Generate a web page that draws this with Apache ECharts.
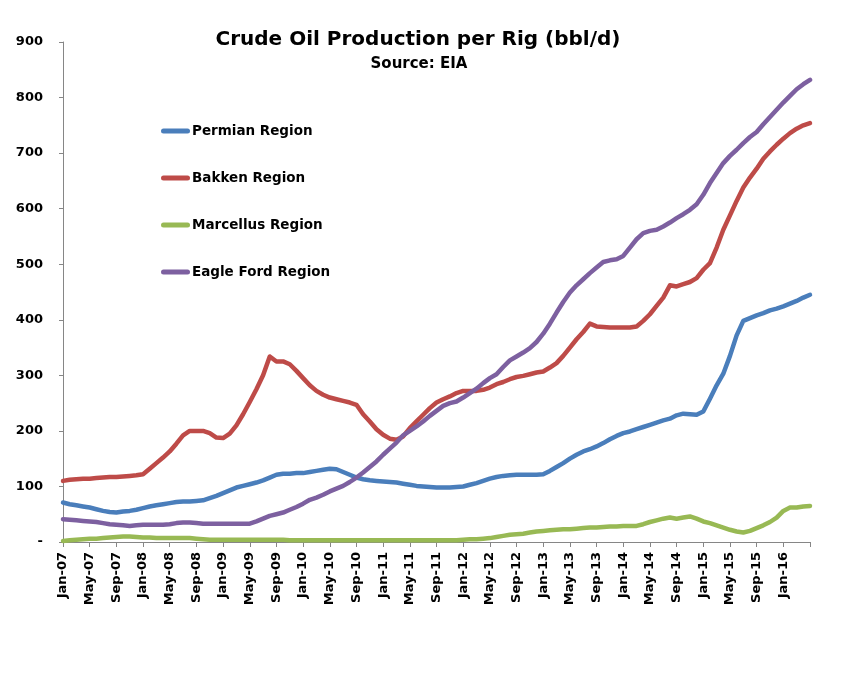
<!DOCTYPE html>
<html>
<head>
<meta charset="utf-8">
<script src="https://cdn.jsdelivr.net/npm/echarts@6/dist/echarts.min.js"></script>
<style>
html,body{margin:0;padding:0;background:#fff;}
#chart{width:845px;height:684px;}
</style>
</head>
<body>
<div id="chart"></div>
<script>
const categories = [
'Jan-07','Feb-07','Mar-07','Apr-07','May-07','Jun-07','Jul-07','Aug-07','Sep-07','Oct-07','Nov-07','Dec-07',
'Jan-08','Feb-08','Mar-08','Apr-08','May-08','Jun-08','Jul-08','Aug-08','Sep-08','Oct-08','Nov-08','Dec-08',
'Jan-09','Feb-09','Mar-09','Apr-09','May-09','Jun-09','Jul-09','Aug-09','Sep-09','Oct-09','Nov-09','Dec-09',
'Jan-10','Feb-10','Mar-10','Apr-10','May-10','Jun-10','Jul-10','Aug-10','Sep-10','Oct-10','Nov-10','Dec-10',
'Jan-11','Feb-11','Mar-11','Apr-11','May-11','Jun-11','Jul-11','Aug-11','Sep-11','Oct-11','Nov-11','Dec-11',
'Jan-12','Feb-12','Mar-12','Apr-12','May-12','Jun-12','Jul-12','Aug-12','Sep-12','Oct-12','Nov-12','Dec-12',
'Jan-13','Feb-13','Mar-13','Apr-13','May-13','Jun-13','Jul-13','Aug-13','Sep-13','Oct-13','Nov-13','Dec-13',
'Jan-14','Feb-14','Mar-14','Apr-14','May-14','Jun-14','Jul-14','Aug-14','Sep-14','Oct-14','Nov-14','Dec-14',
'Jan-15','Feb-15','Mar-15','Apr-15','May-15','Jun-15','Jul-15','Aug-15','Sep-15','Oct-15','Nov-15','Dec-15',
'Jan-16','Feb-16','Mar-16','Apr-16','May-16'
];

const permian = [
71,68,66,64,62,59,56,54,53,55,
56,58,61,64,66,68,70,72,73,73,
74,75,79,83,88,93,98,101,104,107,
111,116,121,123,123,124,124,126,128,130,
132,131,126,121,116,113,111,110,109,108,
107,105,103,101,100,99,98,98,98,99,
100,103,106,110,114,117,119,120,121,121,
121,121,122,128,135,142,150,157,163,167,
172,178,185,191,196,199,203,207,211,215,
219,222,228,231,230,229,235,258,282,303,
335,372,398,403,408,412,417,420,424,429,
434,440,445
];

const bakken = [
110,112,113,114,114,115,116,117,117,118,
119,120,122,132,142,152,163,177,192,200,
200,200,196,188,187,195,210,230,252,275,
300,334,325,325,320,308,295,282,272,265,
260,257,254,251,247,230,217,203,193,186,
184,190,205,217,229,241,251,257,262,268,
272,272,272,274,278,284,288,293,297,299,
302,305,307,314,322,335,350,365,378,393,
388,387,386,386,386,386,388,398,410,425,
440,462,460,464,468,475,490,502,530,562,
588,614,638,656,672,690,703,715,726,736,
744,750,754
];

const marcellus = [
2,3,4,5,6,6,7,8,9,10,
10,9,8,8,7,7,7,7,7,7,
6,5,4,4,4,4,4,4,4,4,
4,4,4,4,3,3,3,3,3,3,
3,3,3,3,3,3,3,3,3,3,
3,3,3,3,3,3,3,3,3,3,
4,5,5,6,7,9,11,13,14,15,
17,19,20,21,22,23,23,24,25,26,
26,27,28,28,29,29,29,32,36,39,
42,44,42,44,46,42,37,34,30,26,
22,19,17,20,25,30,36,44,56,62,
62,64,65
];

const eagleFord = [
41,40,39,38,37,36,34,32,31,30,
29,30,31,31,31,31,32,34,35,35,
34,33,33,33,33,33,33,33,33,37,
42,47,50,53,58,63,69,76,80,85,
91,96,101,108,116,125,135,145,157,168,
179,192,200,208,217,227,236,245,250,253,
260,268,276,286,295,302,315,327,334,341,
349,360,375,393,413,432,449,462,473,484,
494,504,507,509,515,530,545,556,560,562,
568,575,583,590,598,608,625,646,664,682,
695,706,718,729,738,752,765,778,791,803,
815,824,832
];

const seriesNames = ['Permian Region','Bakken Region','Marcellus Region','Eagle Ford Region'];
const seriesColors = ['#4A7EBB','#BE4B48','#98B954','#7D60A0'];
const seriesData = [permian, bakken, marcellus, eagleFord];

const FONT = 'DejaVu Sans';
const chart = echarts.init(document.getElementById('chart'));
chart.setOption({
  animation: false,
  backgroundColor: '#ffffff',
  graphic: [
    {type:'text', x:418, y:40, style:{text:'Crude Oil Production per Rig (bbl/d)', font:'bold 20px "DejaVu Sans"', fill:'#000', textAlign:'center', textVerticalAlign:'middle'}},
    {type:'text', x:419, y:64, style:{text:'Source: EIA', font:'bold 15px "DejaVu Sans"', fill:'#000', textAlign:'center', textVerticalAlign:'middle'}}
  ],
  legend: {
    orient: 'vertical',
    left: 161,
    top: 124,
    padding: 0,
    itemWidth: 29,
    itemHeight: 14,
    itemGap: 33,
    icon: 'path://M2.5,0H26.5A2.5,2.5,0,0,1,26.5,5H2.5A2.5,2.5,0,0,1,2.5,0Z',
    data: seriesNames,
    textStyle: {fontFamily: FONT, fontWeight: 'bold', fontSize: 13.5, color: '#000', padding: [0,0,0,-3]}
  },
  grid: {left: 63, top: 42, right: 35, bottom: 142, containLabel: false},
  xAxis: {
    type: 'category',
    data: categories,
    boundaryGap: false,
    axisLine: {show: true, lineStyle: {color: '#868686', width: 1}},
    axisTick: {show: true, interval: 3, length: 5, lineStyle: {color: '#868686'}},
    axisLabel: {
      rotate: 90,
      margin: 10,
      interval: function (index) { return index % 4 === 0 && index < categories.length - 1; },
      fontFamily: FONT, fontWeight: 'bold', fontSize: 13, color: '#000'
    },
    splitLine: {show: false}
  },
  yAxis: {
    type: 'value',
    min: 0, max: 900, interval: 100,
    axisLine: {show: true, lineStyle: {color: '#868686', width: 1}},
    axisTick: {show: true, length: 4, lineStyle: {color: '#868686'}},
    axisLabel: {
      margin: 20,
      formatter: function (v) { return v === 0 ? '-' : String(v); },
      fontFamily: FONT, fontWeight: 'bold', fontSize: 13, color: '#000'
    },
    splitLine: {show: false}
  },
  series: seriesNames.map(function (name, k) {
    return {
      name: name,
      type: 'line',
      data: seriesData[k],
      symbol: 'none',
      smooth: false,
      color: seriesColors[k],
      lineStyle: {width: 4.5, color: seriesColors[k], cap: 'round', join: 'round'}
    };
  })
});
</script>
</body>
</html>
